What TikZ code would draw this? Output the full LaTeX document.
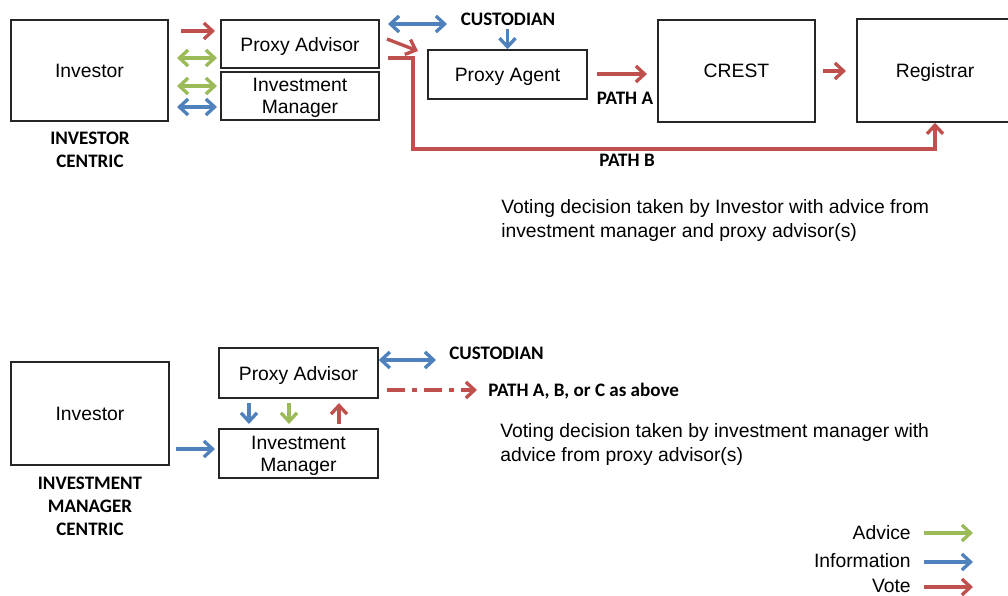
\documentclass[tikz,border=0pt]{standalone}
\usepackage{fontspec}
\setmainfont{Liberation Sans}
\newfontfamily\calfont{Carlito}
\usetikzlibrary{arrows.meta}
\definecolor{cvote}{HTML}{C0504D}
\definecolor{cadv}{HTML}{9BBB59}
\definecolor{cinfo}{HTML}{4F81BD}
\tikzset{
  box/.style={draw=black!85, line width=1.1pt, inner sep=0pt, align=center, text depth=0pt,
    font=\fontsize{14.5}{16.5}\selectfont},
  lbl/.style={inner sep=0pt, font=\calfont\bfseries\fontsize{14.3}{17.2}\selectfont, align=center},
  desc/.style={inner sep=0pt, font=\fontsize{14.5}{17.3}\selectfont, align=left},
  tip/.tip={Straight Barb[length=6.5pt,width=12pt]},
  conn/.style={line width=2.5pt},
  vote/.style={conn, cvote, -tip},
  advice/.style={conn, cadv, -tip},
  info/.style={conn, cinfo, -tip},
  advice2/.style={conn, cadv, tip-tip},
  info2/.style={conn, cinfo, tip-tip},
}
\begin{document}
\begin{tikzpicture}[x=0.75pt,y=-0.75pt]
\clip (0,0) rectangle (1008,596);
\fill[white] (0,0) rectangle (1008,596);
% ---------- top: investor centric ----------
\node[box, minimum width=117.75pt, minimum height=75.75pt] (inv1) at (89.5,70.5) {Investor};
\node[box, minimum width=118.5pt, minimum height=36pt] (pa1) at (300,44) {Proxy Advisor};
\node[box, minimum width=118.5pt, minimum height=36pt] (im1) at (300,96) {Investment\\Manager};
\node[box, minimum width=119.25pt, minimum height=36.75pt] (pag) at (507.5,74.5) {Proxy Agent};
\node[box, minimum width=117.75pt, minimum height=76.5pt] (crest) at (736.5,71) {CREST};
\node[box, minimum width=117pt, minimum height=77.25pt] (reg) at (935,70.5) {Registrar};

\node[lbl] (cust1) at (508,19) {CUSTODIAN};
\node[lbl] (patha) at (625,98) {PATH A};
\node[lbl] (pathb) at (627,160.5) {PATH B};
\node[lbl] (ic) at (90,150) {INVESTOR\\CENTRIC};
\node[desc, anchor=west] (d1) at (501,220.5) {Voting decision taken by Investor with advice from\\investment manager and proxy advisor(s)};

\coordinate (a1s) at (181,31);  \coordinate (a1e) at (215,31);
\coordinate (a2s) at (177,58);  \coordinate (a2e) at (217,58);
\coordinate (a3s) at (177,86);  \coordinate (a3e) at (217,86);
\coordinate (a4s) at (177,107); \coordinate (a4e) at (217,107);
\coordinate (a5s) at (388,24);  \coordinate (a5e) at (447,24);
\coordinate (a6s) at (507.5,29);
\coordinate (a7s) at (387,39);  \coordinate (a7e) at (418,51);
\coordinate (a8s) at (597,74);  \coordinate (a8e) at (647,74);
\coordinate (a9s) at (823,71);  \coordinate (a9e) at (846,71);
\coordinate (pbs) at (388,58);  \coordinate (pbc) at (413,149);

\draw[vote] (a1s) -- (a1e);
\draw[advice2] (a2s) -- (a2e);
\draw[advice2] (a3s) -- (a3e);
\draw[info2] (a4s) -- (a4e);
\draw[info2] (a5s) -- (a5e);
\draw[info] (a6s) -- (pag.north);
\draw[vote] (a7s) -- (a7e);
\draw[vote] (a8s) -- (a8e);
\draw[vote] (a9s) -- (a9e);
\draw[vote] (pbs) -| (pbc) -| (reg.south);

% ---------- bottom: investment manager centric ----------
\node[box, minimum width=118.5pt, minimum height=77.25pt] (inv2) at (90,413.5) {Investor};
\node[box, minimum width=119.25pt, minimum height=37.5pt] (pa2) at (298.5,373) {Proxy Advisor};
\node[box, minimum width=119.25pt, minimum height=36.75pt] (im2) at (298.5,453.5) {Investment\\Manager};

\node[lbl, anchor=west] (cust2) at (449,353) {CUSTODIAN};
\node[lbl, anchor=west] (pabc) at (488,391) {PATH A, B, or C as above};
\node[desc, anchor=west] (d2) at (500,444.5) {Voting decision taken by investment manager with\\advice from proxy advisor(s)};
\node[lbl] (imc) at (90,506.5) {INVESTMENT\\MANAGER\\CENTRIC};

\coordinate (b1e) at (436,360);
\coordinate (b2s) at (387,390); \coordinate (b2e) at (477,390);
\coordinate (b3s) at (249,403); \coordinate (b3e) at (249,424);
\coordinate (b4s) at (289,403); \coordinate (b4e) at (289,424);
\coordinate (b5s) at (339,424); \coordinate (b5e) at (339,403);
\coordinate (b6s) at (176,449); \coordinate (b6e) at (215,449);

\draw[info2] (pa2.east |- b1e) -- (b1e);
\draw[vote, dash pattern=on 13.5pt off 5.25pt on 3.75pt off 5.25pt] (b2s) -- (b2e);
\draw[info] (b3s) -- (b3e);
\draw[advice] (b4s) -- (b4e);
\draw[vote] (b5s) -- (b5e);
\draw[info] (b6s) -- (b6e);

% ---------- legend ----------
\node[desc, anchor=east] (ladv) at (911,533) {Advice};
\node[desc, anchor=east] (linf) at (911,561) {Information};
\node[desc, anchor=east] (lvot) at (911,586) {Vote};
\coordinate (l1s) at (924,533); \coordinate (l1e) at (973,533);
\coordinate (l2s) at (924,562); \coordinate (l2e) at (973,562);
\coordinate (l3s) at (924,587); \coordinate (l3e) at (973,587);
\draw[advice] (l1s) -- (l1e);
\draw[info] (l2s) -- (l2e);
\draw[vote] (l3s) -- (l3e);
\end{tikzpicture}
\end{document}
